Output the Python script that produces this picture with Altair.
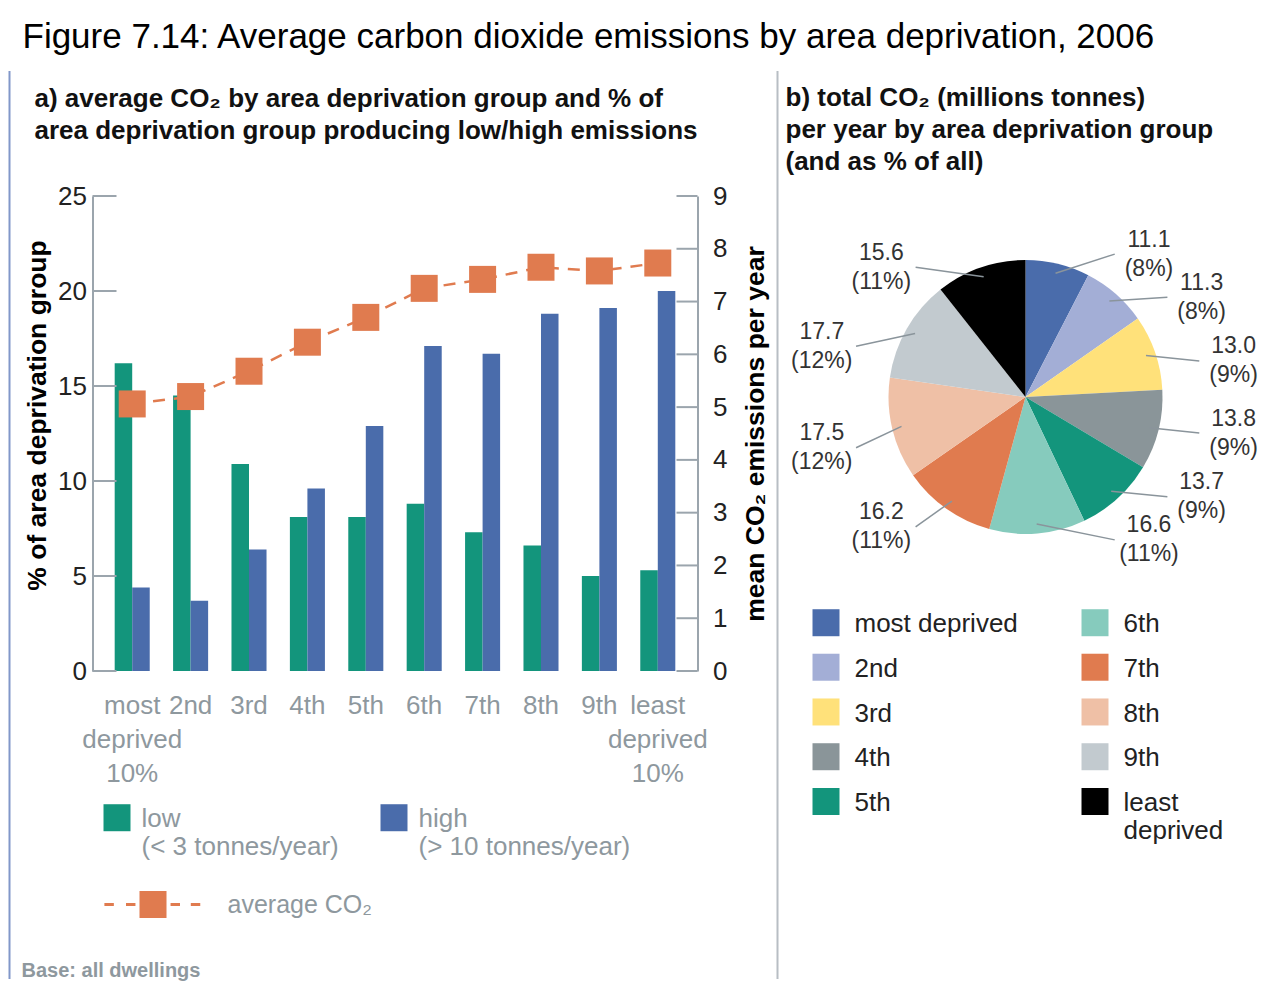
import json
import altair as alt
import pandas as pd

# ---------------- data ----------------
categories = ["most deprived", "2nd", "3rd", "4th", "5th", "6th", "7th", "8th", "9th", "least deprived"]
low_pct = [16.2, 14.5, 10.9, 8.1, 8.1, 8.8, 7.3, 6.6, 5.0, 5.3]
high_pct = [4.4, 3.7, 6.4, 9.6, 12.9, 17.1, 16.7, 18.8, 19.1, 20.0]
avg_co2 = [5.06, 5.2, 5.68, 6.23, 6.7, 7.25, 7.42, 7.65, 7.58, 7.73]
total_co2 = [11.1, 11.3, 13.0, 13.8, 13.7, 16.6, 16.2, 17.5, 17.7, 15.6]

series = ["low", "high"]
series_notes = ["(< 3 tonnes/year)", "(> 10 tonnes/year)"]
avg_label = "average CO\u2082"
left_ticks = [0, 5, 10, 15, 20, 25]
right_ticks = [0, 1, 2, 3, 4, 5, 6, 7, 8, 9]
x_label_lines = {"most deprived": ["most", "deprived", "10%"],
                 "least deprived": ["least", "deprived", "10%"]}
pie_label_lines = {"least deprived": ["least", "deprived"]}

title_main = "Figure 7.14: Average carbon dioxide emissions by area deprivation, 2006"
title_a = ["a) average CO\u2082 by area deprivation group and % of",
           "area deprivation group producing low/high emissions"]
title_b = ["b) total CO\u2082 (millions tonnes)",
           "per year by area deprivation group",
           "(and as % of all)"]
footnote = "Base: all dwellings"

# ---------------- styles ----------------
GREEN = "#13957c"
BLUE = "#4a6cab"
ORANGE = "#e07b4f"
AXIS_GRAY = "#9ba5ad"
LABEL_GRAY = "#8e989e"
FRAME_BLUE = "#8197c9"
DIVIDER = "#b8bec4"
pie_colors = ["#4a6cab", "#a3aed6", "#ffe17a", "#8a9599", "#13957c",
              "#86cbbd", "#e07b4f", "#efc0a6", "#c2cacf", "#000000"]
FONT = "Liberation Sans"

W, H = 605, 475          # left plot area
PW, PH = 470, 402        # pie panel area
R = 137                  # pie radius in px

# ---------------- tables ----------------
bar_df = pd.DataFrame({
    "cat": categories * 2,
    "series": [series[0]] * len(categories) + [series[1]] * len(categories),
    "pct": low_pct + high_pct,
})
avg_df = pd.DataFrame({"cat": categories, "avg": avg_co2, "metric": [avg_label] * len(categories)})
pie_df = pd.DataFrame({"cat": categories, "value": total_co2, "order": list(range(len(categories)))})


def cond_expr(mapping):
    expr = "datum.label"
    for k, v in mapping.items():
        expr = f"datum.label == {json.dumps(k)} ? {json.dumps(v)} : " + expr
    return expr


bar_legend_expr = cond_expr({s: [s, n] for s, n in zip(series, series_notes)})

# symbol paths (unit box is the 27px square)
SQ_SHIFT = "M-1,-0.15H1V1.85H-1Z"
LINE_SYM = ("M-3.6,-0.11H-2.9V0.11H-3.6Z M-2.0,-0.11H-1.3V0.11H-2.0Z "
            "M-1,-1H1V1H-1Z M1.3,-0.11H2.0V0.11H1.3Z M2.8,-0.11H3.5V0.11H2.8Z")

x_enc = alt.X("cat:N", sort=categories,
              scale=alt.Scale(domain=categories, paddingInner=0.4, paddingOuter=0.38),
              axis=alt.Axis(title=None, domain=False, ticks=False, labelAngle=0,
                            labelOverlap=False, labelFontSize=26, labelColor=LABEL_GRAY,
                            labelPadding=21, labelLineHeight=34,
                            labelExpr=cond_expr(x_label_lines)))

left_axis = alt.Axis(title="% of area deprivation group", values=left_ticks, grid=False,
                     ticks=False, domainColor=AXIS_GRAY, domainWidth=2,
                     labelFontSize=26, labelColor="#222", labelPadding=6,
                     titleFontSize=26.5, titleFontWeight="bold", titleColor="#000",
                     titlePadding=6, titleY=219)
right_axis = alt.Axis(orient="right", title="mean CO\u2082 emissions per year", values=right_ticks,
                      grid=False, ticks=False, domainColor=AXIS_GRAY, domainWidth=2,
                      labelFontSize=26, labelColor="#222", labelPadding=15,
                      titleFontSize=26.5, titleFontWeight="bold", titleColor="#000",
                      titleAngle=270, titleBaseline="top", titlePadding=16)
left_scale = alt.Scale(domain=[0, 25], nice=False)
right_scale = alt.Scale(domain=[0, 9], nice=False)

# ---------------- left panel ----------------
bars = alt.Chart(bar_df).mark_bar().encode(
    x=x_enc,
    xOffset=alt.XOffset("series:N", sort=series,
                        scale=alt.Scale(domain=series, paddingInner=0, paddingOuter=0)),
    y=alt.Y("pct:Q", scale=left_scale, axis=left_axis),
    color=alt.Color("series:N", scale=alt.Scale(domain=series, range=[GREEN, BLUE]),
                    legend=alt.Legend(orient="none", legendX=11, legendY=596.5, title=None,
                                      direction="horizontal", columns=2, padding=0,
                                      symbolType=SQ_SHIFT, symbolSize=729, symbolStrokeWidth=0,
                                      labelBaseline="top", labelFontSize=26, labelColor=LABEL_GRAY,
                                      labelOffset=11, columnPadding=41, labelLimit=400,
                                      labelExpr=bar_legend_expr)),
)

ticks_left = alt.Chart(pd.DataFrame({"t": left_ticks})).mark_rule(
    color=AXIS_GRAY, strokeWidth=2).encode(
    y=alt.Y("t:Q", scale=left_scale, axis=left_axis),
    x=alt.value(0), x2=alt.value(24))

line = alt.Chart(avg_df).mark_line(color=ORANGE, strokeWidth=2.5, strokeDash=[12, 9]).encode(
    x=alt.X("cat:N", sort=categories),
    y=alt.Y("avg:Q", scale=right_scale, axis=right_axis))

points = alt.Chart(avg_df).mark_point(shape="square", filled=True, size=729, opacity=1).encode(
    x=alt.X("cat:N", sort=categories),
    y=alt.Y("avg:Q", scale=right_scale, axis=right_axis),
    fill=alt.Fill("metric:N", scale=alt.Scale(domain=[avg_label], range=[ORANGE]),
                  legend=alt.Legend(orient="none", legendX=47, legendY=695, title=None, padding=0,
                                    symbolType=LINE_SYM, symbolSize=729, symbolStrokeWidth=0,
                                    labelFontSize=25, labelColor=LABEL_GRAY, labelOffset=61,
                                    labelBaseline="middle")))

ticks_right = alt.Chart(pd.DataFrame({"t": right_ticks})).mark_rule(
    color=AXIS_GRAY, strokeWidth=2).encode(
    y=alt.Y("t:Q", scale=right_scale, axis=right_axis),
    x=alt.value(W - 21), x2=alt.value(W))

note = alt.Chart(pd.DataFrame({"note": [footnote]})).mark_text(
    align="left", baseline="alphabetic", fontSize=20, fontWeight="bold", color=LABEL_GRAY
).encode(text="note:N", x=alt.value(-71), y=alt.value(781))

left_chart = alt.layer(
    alt.layer(bars, ticks_left),
    alt.layer(line, points, ticks_right),
    note,
).resolve_scale(y="independent").properties(
    width=W, height=H,
    title=alt.TitleParams(text=title_a, anchor="start", fontSize=26, fontWeight="bold",
                          color="#111", lineHeight=32, dx=13, offset=39))

# ---------------- pie panel ----------------
XS = alt.Scale(domain=[-240 / R, (PW - 240) / R], nice=False, zero=False)
YS = alt.Scale(domain=[-(PH / 2) / R, (PH / 2) / R], nice=False, zero=False)

pie_base = alt.Chart(pie_df).transform_joinaggregate(
    total="sum(value)"
).transform_window(
    cum="sum(value)", sort=[alt.SortField("order")]
).transform_calculate(
    mid="2*PI*(datum.cum - datum.value/2)/datum.total",
    pct="round(100*datum.value/datum.total)",
).transform_calculate(
    side="sin(datum.mid) >= 0 ? 1 : -1",
).transform_calculate(
    base="datum.side > 0 ? PI/2 : 3*PI/2",
).transform_window(
    rank="row_number()", groupby=["side"], sort=[alt.SortField("order")]
).transform_joinaggregate(
    n="count()", groupby=["side"]
).transform_calculate(
    # labels spread evenly along each side of the pie
    phi="datum.base + (100/datum.n + 3)*PI/180*(datum.rank - 1 - (datum.n - 1)/2)",
).transform_calculate(
    dist="1.55 - 0.3*pow(cos(datum.phi), 2)",
).transform_calculate(
    lx="datum.dist*sin(datum.phi)",
    ly="datum.dist*cos(datum.phi)",
    x0="0.93*sin(datum.mid)", y0="0.93*cos(datum.mid)",
    label="format(datum.value, '.1f') + '|(' + datum.pct + '%)'",
).transform_calculate(
    x1="datum.lx - datum.side*0.25",
)

arcs = pie_base.mark_arc(radius=R).encode(
    theta=alt.Theta("value:Q", stack=True),
    order=alt.Order("order:Q"),
    x=alt.datum(0, type="quantitative", scale=XS, axis=None),
    y=alt.datum(0, type="quantitative", scale=YS, axis=None),
    color=alt.Color("cat:N", scale=alt.Scale(domain=categories, range=pie_colors),
                    legend=alt.Legend(orient="none", legendX=27, legendY=401.5, title=None,
                                      columns=2, padding=0, values=categories,
                                      symbolType=SQ_SHIFT, symbolSize=729, symbolStrokeWidth=0,
                                      labelBaseline="top", labelFontSize=26, labelColor="#222",
                                      labelOffset=15, rowPadding=4.75, columnPadding=63,
                                      labelLimit=400, labelExpr=cond_expr(pie_label_lines))),
)

leaders = pie_base.mark_rule(color="#8a949b", strokeWidth=1.5).encode(
    x=alt.X("x0:Q", scale=XS, axis=None), y=alt.Y("y0:Q", scale=YS, axis=None),
    x2="x1:Q", y2="ly:Q")

labels = pie_base.mark_text(fontSize=23, lineBreak="|", lineHeight=29, color="#333",
                            align="center", baseline="middle", dy=-14.5).encode(
    x=alt.X("lx:Q", scale=XS, axis=None), y=alt.Y("ly:Q", scale=YS, axis=None),
    text="label:N")

pie_chart = alt.layer(arcs, leaders, labels).properties(
    width=PW, height=PH,
    title=alt.TitleParams(text=title_b, anchor="start", fontSize=26, fontWeight="bold",
                          color="#111", lineHeight=32, offset=21))

# ---------------- decorations ----------------
frame = alt.Chart(pd.DataFrame({"d": [0]})).mark_rule(color=FRAME_BLUE, strokeWidth=2).encode(
    x=alt.value(-38.5), y=alt.value(-125), y2=alt.value(783)).properties(width=1, height=H)
divider = alt.Chart(pd.DataFrame({"d": [0]})).mark_rule(color=DIVIDER, strokeWidth=2).encode(
    x=alt.value(36.5), y=alt.value(-125), y2=alt.value(783)).properties(width=1, height=H)

chart = alt.hconcat(frame, left_chart, divider, pie_chart, spacing=43.5, bounds="flush").resolve_scale(
    color="independent", fill="independent"
).resolve_legend(
    color="independent", fill="independent"
).properties(
    title=alt.TitleParams(text=title_main, anchor="start", fontSize=35, fontWeight="normal",
                          color="#000", dx=14, offset=15),
    padding={"left": 0, "top": 12, "right": 0, "bottom": 0},
).configure(font=FONT).configure_view(stroke=None)

chart.save("out.html", embed_options={"renderer": "svg", "actions": False})
